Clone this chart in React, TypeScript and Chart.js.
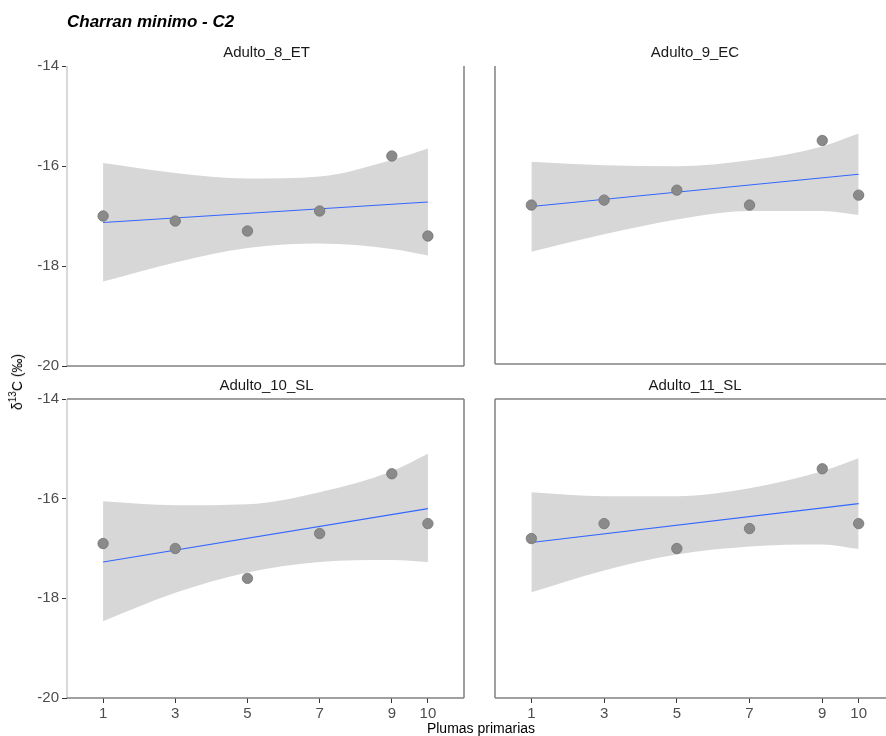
import React, { useEffect, useRef } from 'react';
import { Chart, registerables } from 'chart.js';

Chart.register(...registerables);
Chart.defaults.font.family = '"Liberation Sans", Arial, sans-serif';

// ---- data ----
const xValues = [1, 3, 5, 7, 9, 10];
const xTicks = [1, 3, 5, 7, 9, 10];
const yTicks = [-20, -18, -16, -14];
const fitX = [1, 10];

const panelNames = ['Adulto_8_ET', 'Adulto_9_EC', 'Adulto_10_SL', 'Adulto_11_SL'];

const values8 = [-17.0, -17.1, -17.3, -16.9, -15.8, -17.4];
const fit8 = [-17.13, -16.72];
const upper8 = [-15.94, -16.14, -16.25, -16.21, -15.88, -15.65];
const lower8 = [-18.31, -17.93, -17.64, -17.55, -17.66, -17.79];

const values9 = [-16.8, -16.7, -16.5, -16.8, -15.5, -16.6];
const fit9 = [-16.83, -16.18];
const upper9 = [-15.93, -16.0, -16.02, -15.9, -15.62, -15.36];
const lower9 = [-17.74, -17.39, -17.09, -16.92, -16.92, -17.0];

const values10 = [-16.9, -17.0, -17.6, -16.7, -15.5, -16.5];
const fit10 = [-17.27, -16.2];
const upper10 = [-16.05, -16.13, -16.11, -15.87, -15.45, -15.1];
const lower10 = [-18.46, -17.89, -17.48, -17.27, -17.23, -17.27];

const values11 = [-16.8, -16.5, -17.0, -16.6, -15.4, -16.5];
const fit11 = [-16.88, -16.1];
const upper11 = [-15.87, -15.95, -15.95, -15.79, -15.45, -15.19];
const lower11 = [-17.88, -17.44, -17.12, -16.96, -16.92, -17.01];

const X_MIN = 0;
const X_MAX = 11;
const Y_MIN = -20;
const Y_MAX = -14;

type Edge = { side: 'left' | 'right' | 'top' | 'bottom'; color: string; width: number };

const DARK = '#808080';
const LIGHT = '#d9d9d9';

function makeFrame(edges: Edge[]) {
  return {
    id: 'frame',
    afterDraw(chart: any) {
      const { ctx, chartArea: a } = chart;
      ctx.save();
      for (const e of edges) {
        ctx.strokeStyle = e.color;
        ctx.lineWidth = e.width;
        ctx.beginPath();
        if (e.side === 'left') { ctx.moveTo(a.left, a.top); ctx.lineTo(a.left, a.bottom); }
        if (e.side === 'right') { ctx.moveTo(a.right, a.top); ctx.lineTo(a.right, a.bottom); }
        if (e.side === 'top') { ctx.moveTo(a.left, a.top); ctx.lineTo(a.right, a.top); }
        if (e.side === 'bottom') { ctx.moveTo(a.left, a.bottom); ctx.lineTo(a.right, a.bottom); }
        ctx.stroke();
      }
      ctx.restore();
    },
  };
}

type PanelProps = {
  values: number[];
  fit: number[];
  upper: number[];
  lower: number[];
  showX: boolean;
  showY: boolean;
  edges: Edge[];
  left: number;
  top: number;
  width: number;
  height: number;
  padding: { top: number; right: number; bottom: number; left: number };
};

function Panel(p: PanelProps) {
  const ref = useRef<HTMLCanvasElement | null>(null);
  useEffect(() => {
    if (!ref.current) return;
    const chart = new Chart(ref.current, {
      type: 'line',
      data: {
        datasets: [
          {
            data: xValues.map((x, i) => ({ x, y: p.lower[i] })),
            borderWidth: 0,
            borderColor: 'rgba(0,0,0,0)',
            pointRadius: 0,
            cubicInterpolationMode: 'monotone',
            fill: false,
            order: 5,
          },
          {
            data: xValues.map((x, i) => ({ x, y: p.upper[i] })),
            borderWidth: 0,
            borderColor: 'rgba(0,0,0,0)',
            backgroundColor: '#d7d7d7',
            pointRadius: 0,
            cubicInterpolationMode: 'monotone',
            fill: '-1',
            order: 4,
          },
          {
            data: fitX.map((x, i) => ({ x, y: p.fit[i] })),
            borderColor: '#3366FF',
            borderWidth: 1.1,
            pointRadius: 0,
            fill: false,
            order: 2,
          },
          {
            data: xValues.map((x, i) => ({ x, y: p.values[i] })),
            showLine: false,
            pointRadius: 5.2,
            pointBackgroundColor: '#8a8a8a',
            pointBorderColor: '#737373',
            pointBorderWidth: 0.8,
            fill: false,
            order: 1,
          },
        ] as any,
      },
      options: {
        animation: false,
        responsive: false,
        events: [],
        layout: { padding: p.padding },
        plugins: { legend: { display: false }, tooltip: { enabled: false }, title: { display: false } },
        scales: {
          x: {
            type: 'linear',
            min: X_MIN,
            max: X_MAX,
            display: p.showX,
            afterBuildTicks: (s: any) => { s.ticks = xTicks.map((v) => ({ value: v })); },
            afterFit: (s: any) => { if (p.showX) s.height = 38; },
            ticks: {
              autoSkip: false,
              maxRotation: 0,
              font: { size: 15 },
              color: '#4d4d4d',
              padding: 2,
              callback: (v: any) => String(v),
            },
            grid: { display: true, drawOnChartArea: false, drawTicks: true, tickLength: 5, color: '#333333', lineWidth: 1 },
            border: { display: false },
          },
          y: {
            type: 'linear',
            min: Y_MIN,
            max: Y_MAX,
            display: p.showY,
            afterBuildTicks: (s: any) => { s.ticks = yTicks.map((v) => ({ value: v })); },
            afterFit: (s: any) => { if (p.showY) s.width = 67; },
            ticks: {
              font: { size: 15 },
              color: '#4d4d4d',
              padding: 3,
              callback: (v: any) => String(v),
            },
            grid: { display: true, drawOnChartArea: false, drawTicks: true, tickLength: 5, color: '#333333', lineWidth: 1 },
            border: { display: false },
          },
        },
      } as any,
      plugins: [makeFrame(p.edges)],
    });
    return () => chart.destroy();
  }, []);
  return (
    <canvas
      ref={ref}
      width={p.width}
      height={p.height}
      style={{ position: 'absolute', left: p.left, top: p.top, width: p.width, height: p.height }}
    />
  );
}

const stripStyle: React.CSSProperties = {
  position: 'absolute',
  fontSize: 15,
  lineHeight: '15px',
  color: '#1a1a1a',
  textAlign: 'center',
  whiteSpace: 'nowrap',
};

export default function App() {
  return (
    <div
      style={{
        position: 'fixed',
        left: 0,
        top: 0,
        width: 886,
        height: 736,
        overflow: 'hidden',
        background: '#ffffff',
        fontFamily: '"Liberation Sans", Arial, sans-serif',
      }}
    >
      <Panel
        values={values10} fit={fit10} upper={upper10} lower={lower10}
        showX={true} showY={true}
        edges={[
          { side: 'left', color: LIGHT, width: 2 },
          { side: 'top', color: DARK, width: 1.5 },
          { side: 'right', color: DARK, width: 1.5 },
          { side: 'bottom', color: DARK, width: 1.5 },
        ]}
        left={0} top={370} width={470} height={366}
        padding={{ top: 29, right: 4, bottom: 0, left: 0 }}
      />
      <Panel
        values={values11} fit={fit11} upper={upper11} lower={lower11}
        showX={true} showY={false}
        edges={[
          { side: 'left', color: DARK, width: 1.5 },
          { side: 'top', color: DARK, width: 1.5 },
          { side: 'bottom', color: DARK, width: 1.5 },
          { side: 'right', color: DARK, width: 1.5 },
        ]}
        left={470} top={370} width={440} height={366}
        padding={{ top: 29, right: 15, bottom: 0, left: 25 }}
      />
      <Panel
        values={values8} fit={fit8} upper={upper8} lower={lower8}
        showX={false} showY={true}
        edges={[
          { side: 'left', color: LIGHT, width: 2 },
          { side: 'right', color: DARK, width: 1.5 },
          { side: 'bottom', color: DARK, width: 1.5 },
        ]}
        left={0} top={0} width={470} height={378}
        padding={{ top: 66, right: 4, bottom: 5, left: 0 }}
      />
      <Panel
        values={values9} fit={fit9} upper={upper9} lower={lower9}
        showX={false} showY={false}
        edges={[
          { side: 'left', color: DARK, width: 1.5 },
          { side: 'bottom', color: DARK, width: 1.5 },
          { side: 'right', color: DARK, width: 1.5 },
        ]}
        left={470} top={0} width={440} height={370}
        padding={{ top: 66, right: 15, bottom: 5, left: 25 }}
      />

      <div
        style={{
          position: 'absolute', left: 67, top: 13, fontSize: 17, lineHeight: '17px',
          fontWeight: 'bold', fontStyle: 'italic', color: '#000', whiteSpace: 'nowrap',
        }}
      >
        Charran minimo - C2
      </div>

      <div style={{ ...stripStyle, left: 67, width: 399, top: 44 }}>{panelNames[0]}</div>
      <div style={{ ...stripStyle, left: 495, width: 400, top: 44 }}>{panelNames[1]}</div>
      <div style={{ ...stripStyle, left: 67, width: 399, top: 377 }}>{panelNames[2]}</div>
      <div style={{ ...stripStyle, left: 495, width: 400, top: 377 }}>{panelNames[3]}</div>

      <div
        style={{
          position: 'absolute', left: 67, width: 828, top: 721, fontSize: 14, lineHeight: '14px',
          color: '#000', textAlign: 'center', whiteSpace: 'nowrap',
        }}
      >
        Plumas primarias
      </div>

      <div
        style={{
          position: 'absolute', left: 17, top: 382, fontSize: 14, lineHeight: '14px', color: '#000',
          fontWeight: 'normal', whiteSpace: 'nowrap', transform: 'translate(-50%, -50%) rotate(-90deg)',
        }}
      >
        δ<sup style={{ fontSize: 10, verticalAlign: 'super', lineHeight: 0 }}>13</sup>C (‰)
      </div>
    </div>
  );
}
